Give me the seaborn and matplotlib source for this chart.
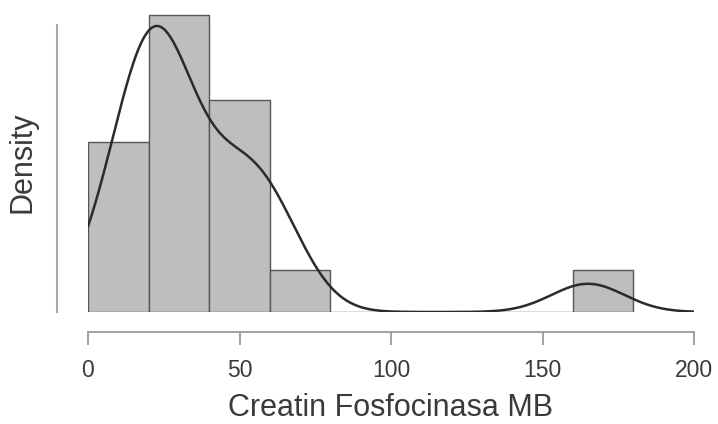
import numpy as np
import pandas as pd
import seaborn as sns
import matplotlib
matplotlib.use("Agg")
import matplotlib.pyplot as plt

# Creatin Fosfocinasa MB observations
ck_mb = [5, 14, 18, 19.5, 20.5, 21, 22, 23, 25, 27, 32,
         42, 46, 52, 56, 59, 65, 165]
bin_edges = [0, 20, 40, 60, 80, 100, 120, 140, 160, 180]
x_ticks = [0, 50, 100, 150, 200]
kde_bandwidth = 12.0  # kernel sd in data units

df = pd.DataFrame({"ckmb": ck_mb})

sns.set_theme(style="white")
plt.rcParams["font.family"] = ["Liberation Sans", "DejaVu Sans"]

fig = plt.figure(figsize=(7.18, 4.24), dpi=100)
ax = fig.add_axes([88 / 718, 112 / 424, 606 / 718, 307 / 424])

sns.histplot(data=df, x="ckmb", bins=bin_edges, stat="density",
             color="#bebebe", edgecolor="#555555", linewidth=1.0,
             alpha=1.0, ax=ax)

bw_factor = kde_bandwidth / np.std(ck_mb, ddof=1)
sns.kdeplot(data=df, x="ckmb", bw_method=bw_factor, cut=3,
            clip=(0, 200), gridsize=500, color="#2b2b2b",
            linewidth=1.8, ax=ax)

ax.set_xlim(0, 200)
ax.set_ylim(0, 0.0201)
ax.set_xticks(x_ticks)
ax.set_xticklabels([str(t) for t in x_ticks])
ax.set_yticks([])

for side in ("top", "right"):
    ax.spines[side].set_visible(False)
ax.spines["bottom"].set_position(("outward", 14.4))
ax.spines["bottom"].set_bounds(0, 200)
ax.spines["bottom"].set_color("#9a9a9a")
ax.spines["bottom"].set_linewidth(1.3)
ax.spines["left"].set_position(("outward", 22.3))
ax.spines["left"].set_bounds(0, 0.01879)
ax.spines["left"].set_color("#a8a8a8")
ax.spines["left"].set_linewidth(1.5)

ax.tick_params(axis="x", direction="out", length=9.4, width=1.3,
               color="#9a9a9a", pad=10, labelsize=16.5,
               labelcolor="#3a3a3a", bottom=True)

ax.set_xlabel("Creatin Fosfocinasa MB", fontsize=22, color="#3a3a3a",
              va="center")
ax.xaxis.set_label_coords(0.5, (312 - 408) / 307)
ax.set_ylabel("Density", fontsize=22, color="#3a3a3a", va="center")
ax.yaxis.set_label_coords((23 - 88) / 606, (312 - 162) / 307)

fig.savefig("out.png", dpi=100)
